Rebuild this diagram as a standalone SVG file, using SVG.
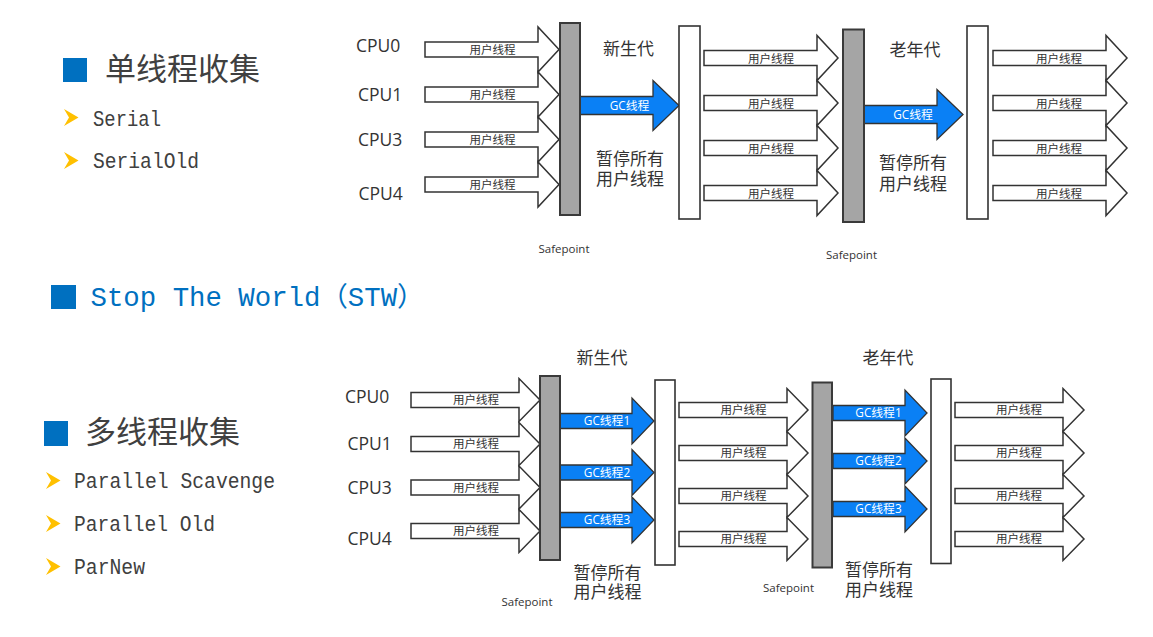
<svg xmlns="http://www.w3.org/2000/svg" xmlns:xlink="http://www.w3.org/1999/xlink" width="1153" height="637" viewBox="0 0 1153 637">
<style>
.ua{fill:#fff;stroke:#333;stroke-width:1.5;stroke-linejoin:miter}
.gc{fill:#0a80f5;stroke:#333;stroke-width:1.3}
.gray{fill:#a5a5a5;stroke:#3a3a3a;stroke-width:2}
.wbar{fill:#fff;stroke:#333;stroke-width:1.6}
.t{font-family:"Open Sans","Noto Sans CJK SC",sans-serif;fill:#333}
.cpu{font-size:17.5px}
.big{font-size:17px;text-anchor:middle}
.sm{font-size:11.5px;text-anchor:middle}
.gct{font-size:11.8px;text-anchor:middle;fill:#fff}
.sp{font-size:11.5px;text-anchor:middle}
.h{font-family:"Noto Sans CJK SC",sans-serif;font-size:31px;fill:#404040}
.li{font-family:"Liberation Mono","Noto Sans CJK SC",monospace;font-size:21.5px;fill:#404040}
.stw{font-family:"Liberation Mono","Noto Sans CJK SC",monospace;font-size:27px;fill:#0070c0}
.sq{fill:#0070c0}
.bul{fill:#ffc000}
</style>
<defs>
<path id="ua" class="ua" d="M-134,-7.5 H-21 V-22.5 L0,0 L-21,22.5 V7.5 H-134 Z"/>
<path id="gcA" class="gc" d="M-99,-9 H-26 V-25 L0,0 L-26,25 V9 H-99 Z"/>
<path id="ub" class="ua" d="M-129,-7.5 H-21 V-21.5 L0,0 L-21,21.5 V7.5 H-129 Z"/>
<path id="gcB" class="gc" d="M-94,-7.5 H-22 V-23 L0,0 L-22,23 V7.5 H-94 Z"/>
<path id="bullet" class="bul" d="M0,0 L14.5,8.5 L0,17 L5,8.5 Z"/>
</defs>

<g id="left-text">
  <rect class="sq" x="63" y="58" width="24" height="24"/>
  <text class="h" x="105" y="80">单线程收集</text>
  <use xlink:href="#bullet" x="64" y="109"/>
  <text class="li" x="93" y="126" textLength="68" lengthAdjust="spacingAndGlyphs">Serial</text>
  <use xlink:href="#bullet" x="64" y="152"/>
  <text class="li" x="93" y="168" textLength="106" lengthAdjust="spacingAndGlyphs">SerialOld</text>
  <rect class="sq" x="51" y="285" width="25" height="24"/>
  <text class="stw" x="90.5" y="305.5" textLength="334" lengthAdjust="spacingAndGlyphs">Stop The World（STW）</text>
  <rect class="sq" x="44" y="421" width="24" height="25"/>
  <text class="h" x="85" y="443">多线程收集</text>
  <use xlink:href="#bullet" x="46" y="472"/>
  <text class="li" x="74" y="488" textLength="201" lengthAdjust="spacingAndGlyphs">Parallel Scavenge</text>
  <use xlink:href="#bullet" x="46" y="515"/>
  <text class="li" x="74" y="531" textLength="141" lengthAdjust="spacingAndGlyphs">Parallel Old</text>
  <use xlink:href="#bullet" x="46" y="558"/>
  <text class="li" x="74" y="574" textLength="71" lengthAdjust="spacingAndGlyphs">ParNew</text>
</g>

<g id="connectors">
  <use xlink:href="#ua" x="559" y="49.5"/>
  <use xlink:href="#ua" x="559" y="94.5"/>
  <use xlink:href="#ua" x="559" y="139.5"/>
  <use xlink:href="#ua" x="559" y="184.5"/>
  <use xlink:href="#gcA" x="679" y="105.5"/>
  <use xlink:href="#ua" x="838" y="58"/>
  <use xlink:href="#ua" x="838" y="103"/>
  <use xlink:href="#ua" x="838" y="148"/>
  <use xlink:href="#ua" x="838" y="193"/>
  <use xlink:href="#gcA" x="963" y="114.5"/>
  <use xlink:href="#ua" x="1127" y="58"/>
  <use xlink:href="#ua" x="1127" y="103"/>
  <use xlink:href="#ua" x="1127" y="148"/>
  <use xlink:href="#ua" x="1127" y="193"/>
  <use xlink:href="#ub" x="540" y="400"/>
  <use xlink:href="#ub" x="540" y="444"/>
  <use xlink:href="#ub" x="540" y="487.5"/>
  <use xlink:href="#ub" x="540" y="531"/>
  <use xlink:href="#gcB" x="654" y="421"/>
  <use xlink:href="#gcB" x="654" y="472.5"/>
  <use xlink:href="#gcB" x="654" y="520"/>
  <use xlink:href="#ub" x="808" y="410"/>
  <use xlink:href="#ub" x="808" y="453"/>
  <use xlink:href="#ub" x="808" y="496"/>
  <use xlink:href="#ub" x="808" y="539"/>
  <use xlink:href="#gcB" x="927" y="413"/>
  <use xlink:href="#gcB" x="927" y="461"/>
  <use xlink:href="#gcB" x="927" y="509"/>
  <use xlink:href="#ub" x="1084" y="410"/>
  <use xlink:href="#ub" x="1084" y="453"/>
  <use xlink:href="#ub" x="1084" y="496"/>
  <use xlink:href="#ub" x="1084" y="539"/>
</g>

<g id="connector-labels" class="t">
  <text class="sm" x="492.5" y="53.5">用户线程</text>
  <text class="sm" x="492.5" y="98.5">用户线程</text>
  <text class="sm" x="492.5" y="143.5">用户线程</text>
  <text class="sm" x="492.5" y="188.5">用户线程</text>
  <text class="gct" x="629.5" y="109.5">GC线程</text>
  <text class="sm" x="771" y="62.5">用户线程</text>
  <text class="sm" x="771" y="107.5">用户线程</text>
  <text class="sm" x="771" y="152.5">用户线程</text>
  <text class="sm" x="771" y="197.5">用户线程</text>
  <text class="gct" x="913" y="118.5">GC线程</text>
  <text class="sm" x="1059" y="62.5">用户线程</text>
  <text class="sm" x="1059" y="107.5">用户线程</text>
  <text class="sm" x="1059" y="152.5">用户线程</text>
  <text class="sm" x="1059" y="197.5">用户线程</text>

  <text class="sm" x="476" y="404">用户线程</text>
  <text class="sm" x="476" y="448">用户线程</text>
  <text class="sm" x="476" y="491.5">用户线程</text>
  <text class="sm" x="476" y="535">用户线程</text>
  <text class="gct" x="607" y="425">GC线程1</text>
  <text class="gct" x="607" y="476.5">GC线程2</text>
  <text class="gct" x="607" y="524">GC线程3</text>
  <text class="sm" x="743.5" y="414">用户线程</text>
  <text class="sm" x="743.5" y="457">用户线程</text>
  <text class="sm" x="743.5" y="500">用户线程</text>
  <text class="sm" x="743.5" y="543">用户线程</text>
  <text class="gct" x="878.5" y="417">GC线程1</text>
  <text class="gct" x="878.5" y="465">GC线程2</text>
  <text class="gct" x="878.5" y="513">GC线程3</text>
  <text class="sm" x="1019" y="414">用户线程</text>
  <text class="sm" x="1019" y="457">用户线程</text>
  <text class="sm" x="1019" y="500">用户线程</text>
  <text class="sm" x="1019" y="543">用户线程</text>
</g>

<g id="top-cpus" class="t cpu">
  <text x="356" y="52">CPU0</text>
  <text x="358" y="101">CPU1</text>
  <text x="358" y="146">CPU3</text>
  <text x="358.5" y="200">CPU4</text>
</g>
<g id="top-safepoint1">
  <rect class="gray" x="560" y="23" width="20" height="192"/>
  <text class="t sp" x="564" y="253">Safepoint</text>
</g>
<g id="top-young" class="t">
  <text class="big" x="628.5" y="55">新生代</text>
  <text class="big" x="630" y="165">暂停所有</text>
  <text class="big" x="630" y="185">用户线程</text>
</g>
<g id="top-bar1"><rect class="wbar" x="679" y="26" width="21" height="193"/></g>
<g id="top-safepoint2">
  <rect class="gray" x="843" y="29.5" width="21" height="192.5"/>
  <text class="t sp" x="851.5" y="259">Safepoint</text>
</g>
<g id="top-old" class="t">
  <text class="big" x="915" y="55.5">老年代</text>
  <text class="big" x="913" y="169">暂停所有</text>
  <text class="big" x="913" y="190">用户线程</text>
</g>
<g id="top-bar2"><rect class="wbar" x="967" y="26" width="21" height="193"/></g>

<g id="bottom-cpus" class="t cpu">
  <text x="345" y="403">CPU0</text>
  <text x="347.5" y="450">CPU1</text>
  <text x="347.5" y="494">CPU3</text>
  <text x="347.5" y="545">CPU4</text>
</g>
<g id="bottom-safepoint1">
  <rect class="gray" x="540" y="376" width="20" height="184"/>
  <text class="t sp" x="527" y="605.5">Safepoint</text>
</g>
<g id="bottom-young" class="t">
  <text class="big" x="602" y="363.5">新生代</text>
  <text class="big" x="607.5" y="579">暂停所有</text>
  <text class="big" x="607.5" y="598">用户线程</text>
</g>
<g id="bottom-bar1"><rect class="wbar" x="655" y="380" width="20" height="185"/></g>
<g id="bottom-safepoint2">
  <rect class="gray" x="812.5" y="382.5" width="19.5" height="185"/>
  <text class="t sp" x="788.5" y="591.5">Safepoint</text>
</g>
<g id="bottom-old" class="t">
  <text class="big" x="888" y="363.5">老年代</text>
  <text class="big" x="879" y="575.5">暂停所有</text>
  <text class="big" x="879" y="595.5">用户线程</text>
</g>
<g id="bottom-bar2"><rect class="wbar" x="931" y="379" width="20" height="184.5"/></g>
</svg>
